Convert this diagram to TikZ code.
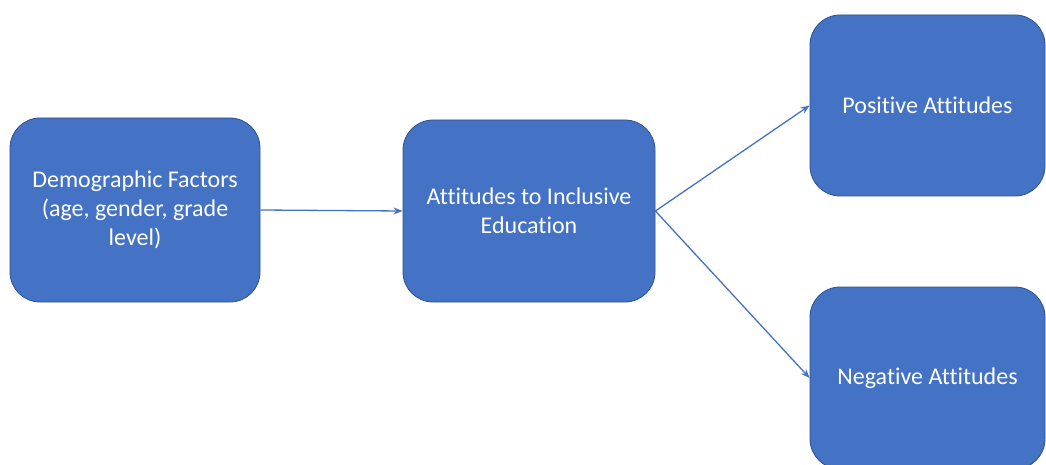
\documentclass[tikz,border=0pt]{standalone}
\usepackage{fontspec}
\setmainfont[Ligatures={NoCommon}]{Carlito}
\usetikzlibrary{arrows.meta}
\definecolor{boxblue}{HTML}{4472C4}
\definecolor{boxline}{HTML}{2F528F}
\tikzstyle{bloque} = [draw=boxline, fill=boxblue, line width=0.8pt, rectangle, rounded corners=30pt, text=white, align=center, font=\fontsize{24}{29}\selectfont]
\tikzstyle{flecha} = [draw=boxblue, line width=1.3pt, -{Stealth[length=9pt,width=7pt]}]

\begin{document}
\begin{tikzpicture}[x=1pt,y=-1pt]
		\useasboundingbox (0,0) rectangle (1046,465);
		\node[bloque, minimum width=250pt, minimum height=184pt](demo) at (135,210) {Demographic Factors\\(age, gender, grade\\level)};
		\node[bloque, minimum width=252pt, minimum height=182pt](actitud) at (529,211) {Attitudes to Inclusive\\Education};
		\node[bloque, minimum width=235pt, minimum height=181pt](positiva) at (927.5,105.5) {Positive Attitudes};
		\node[bloque, minimum width=235pt, minimum height=182pt](negativa) at (927.5,378) {Negative Attitudes};
		\draw[flecha] (demo.east) -- (actitud.west);
		\draw[flecha] (actitud.east) -- (positiva.west);
		\draw[flecha] (actitud.east) -- (negativa.west);
	\end{tikzpicture}
\end{document}
